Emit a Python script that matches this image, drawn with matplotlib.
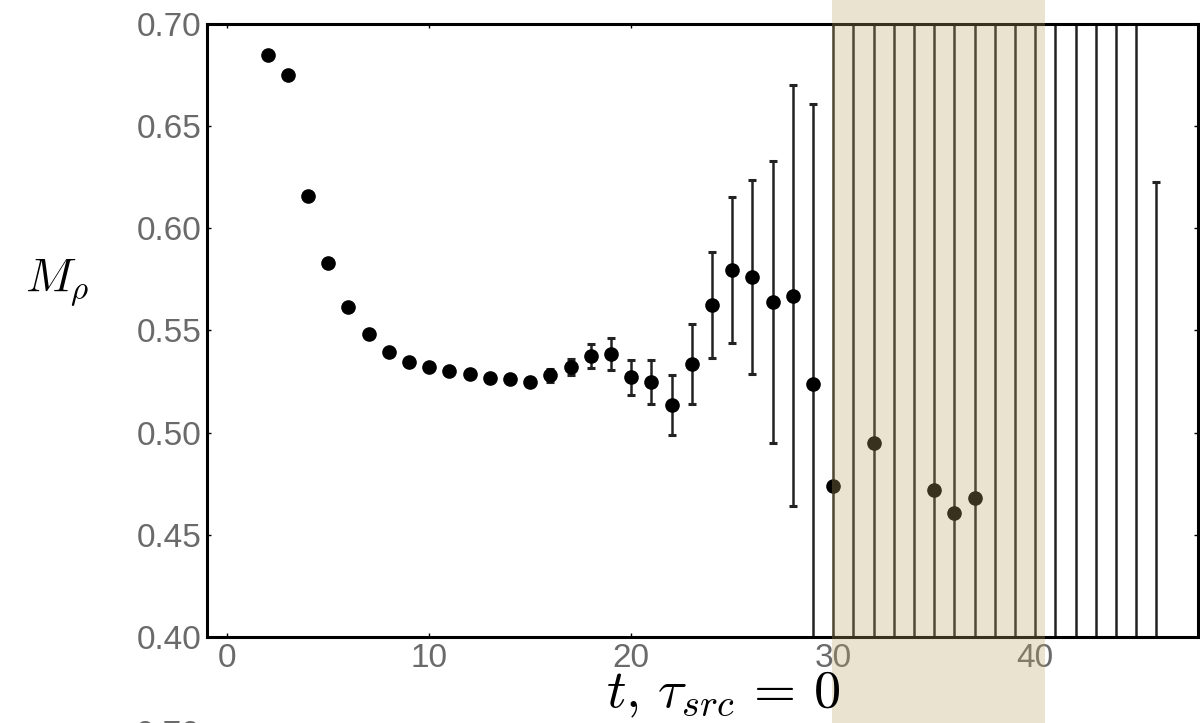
import matplotlib
matplotlib.use("Agg")
import matplotlib.pyplot as plt

# effective mass data
t = list(range(2, 47))
m_rho = [0.685, 0.675, 0.616, 0.583, 0.5615, 0.548, 0.5395, 0.5345, 0.532, 0.530,
         0.5287, 0.5267, 0.526, 0.525, 0.528, 0.532, 0.5375, 0.5385, 0.527, 0.5248,
         0.5135, 0.5336, 0.5625, 0.5796, 0.5762, 0.564, 0.567, 0.5238, 0.474, 0.30,
         0.495, 0.85, 0.32, 0.472, 0.4606, 0.468, 0.80, 0.30, 0.82, 0.33,
         0.78, 0.35, 0.85, 0.30, 0.37]
m_err = [0.001, 0.001, 0.001, 0.001, 0.001, 0.001, 0.001, 0.001, 0.001, 0.001,
         0.001, 0.001, 0.001, 0.001, 0.003, 0.004, 0.006, 0.008, 0.0086, 0.0107,
         0.0148, 0.0196, 0.026, 0.0357, 0.0475, 0.069, 0.103, 0.137, 0.4, 0.5,
         0.4, 0.5, 0.5, 0.4, 0.4, 0.4, 0.5, 0.5, 0.5, 0.5,
         0.5, 0.5, 0.5, 0.5, 0.2527]

x_ticks = [0, 10, 20, 30, 40]
y_ticks = [0.40, 0.45, 0.50, 0.55, 0.60, 0.65, 0.70]
fit_window = (29.95, 40.5)

plt.rcParams['font.family'] = ['Liberation Sans', 'DejaVu Sans']
plt.rcParams['mathtext.fontset'] = 'cm'

fig = plt.figure(figsize=(12, 7.23), dpi=100)
ax = fig.add_axes([0.1725, 0.119, 0.826, 0.848])

ax.errorbar(t, m_rho, yerr=m_err, fmt='o', color='black', ms=9.5,
            ecolor='#222222', elinewidth=1.8, capsize=3, capthick=2.2)

ax.set_xlim(-1, 48.07)
ax.set_ylim(0.40, 0.70)
ax.set_xticks(x_ticks)
ax.set_yticks(y_ticks)
ax.set_yticklabels([f"{v:.2f}" for v in y_ticks])
ax.tick_params(direction='in', length=3, width=1, top=True, right=True,
               labelsize=24, labelcolor='#6a6a6a', pad=4)
for s in ax.spines.values():
    s.set_linewidth(2.2)

# highlighted fit window, spilling over the whole figure height
ax.axvspan(*fit_window, ymin=-0.141, ymax=1.04, clip_on=False,
           color=(0.72, 0.64, 0.38), alpha=0.3, lw=0, zorder=10)

fig.text(0.6025, 0.021, r"$t,\,\tau_{src}\,=\,0$", fontsize=39, ha='center', va='baseline')
fig.text(0.048, 0.61, r"$M_\rho$", fontsize=34, ha='center', va='center')
# label of the panel below, mostly cut off
fig.text(0.1667, 0.004, "0.70", fontsize=24, color='#6a6a6a', ha='right', va='top')

fig.savefig("out.png", dpi=100)
